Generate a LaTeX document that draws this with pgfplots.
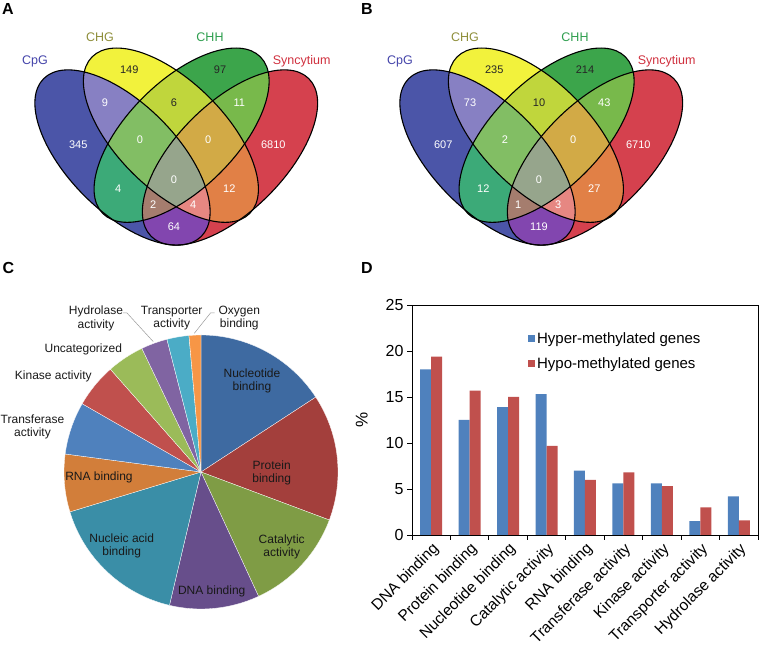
\documentclass[border=0pt]{standalone}
\usepackage{pgfplots}
\pgfplotsset{compat=1.18}
\usepackage{fontspec}
\setmainfont{Liberation Sans}
\setsansfont{Liberation Sans}

% Venn region colours
\definecolor{vB}{HTML}{4B55A8}
\definecolor{vY}{HTML}{F2F23C}
\definecolor{vG}{HTML}{3CA54B}
\definecolor{vR}{HTML}{D5414E}
\definecolor{vBY}{HTML}{8780C3}
\definecolor{vYG}{HTML}{C0D63C}
\definecolor{vGR}{HTML}{78B94B}
\definecolor{vBG}{HTML}{3CAA78}
\definecolor{vYR}{HTML}{E18046}
\definecolor{vBR}{HTML}{8246AF}
\definecolor{vBYG}{HTML}{82BE64}
\definecolor{vYGR}{HTML}{D2AA46}
\definecolor{vBGR}{HTML}{A57D6E}
\definecolor{vBYR}{HTML}{E68782}
\definecolor{vAll}{HTML}{96A58C}
\definecolor{tB}{HTML}{4444AA}
\definecolor{tY}{HTML}{8E8E3A}
\definecolor{tG}{HTML}{2E9E4E}
\definecolor{tR}{HTML}{D0303E}
% pie colours
\definecolor{pNuc}{HTML}{3E6AA1}
\definecolor{pPro}{HTML}{A33F3C}
\definecolor{pCat}{HTML}{7F9C45}
\definecolor{pDNA}{HTML}{674E8B}
\definecolor{pNA}{HTML}{3A8EA7}
\definecolor{pRNA}{HTML}{D27E3A}
\definecolor{pTra}{HTML}{4F81BD}
\definecolor{pKin}{HTML}{C0504D}
\definecolor{pUnc}{HTML}{9BBB59}
\definecolor{pHyd}{HTML}{8064A2}
\definecolor{pTrp}{HTML}{4BACC6}
\definecolor{pOxy}{HTML}{F79646}
% bars
\definecolor{barB}{HTML}{4F81BD}
\definecolor{barR}{HTML}{C0504D}

\tikzset{
 num/.style={font=\fontsize{11}{11}\selectfont, text=white},
 dnum/.style={font=\fontsize{11}{11}\selectfont, text=black!85},
 setlab/.style={font=\fontsize{12.5}{12.5}\selectfont},
 pielab/.style={font=\fontsize{12}{13.5}\selectfont, align=center, text=black!90},
 panel/.style={font=\fontsize{16}{16}\selectfont\bfseries},
}
% ellipse paths (centre, rotation, semi-axes in pt)
\newcommand\pB{[rotate around={-45:(axis cs:122.5,492.5)}] (axis cs:122.5,492.5) ellipse [x radius=111.5pt, y radius=54pt]}
\newcommand\pY{[rotate around={-44.8:(axis cs:170.9,514.8)}] (axis cs:170.9,514.8) ellipse [x radius=111.1pt, y radius=53.9pt]}
\newcommand\pG{[rotate around={44.8:(axis cs:181.6,514.8)}] (axis cs:181.6,514.8) ellipse [x radius=111.1pt, y radius=53.9pt]}
\newcommand\pR{[rotate around={45:(axis cs:230.0,492.5)}] (axis cs:230.0,492.5) ellipse [x radius=111.5pt, y radius=54pt]}

\newcommand\regtwo[3]{\begin{scope}\clip\csname p#1\endcsname;\fill[#3]\csname p#2\endcsname;\end{scope}}
\newcommand\regthree[4]{\begin{scope}\clip\csname p#1\endcsname;\clip\csname p#2\endcsname;\fill[#4]\csname p#3\endcsname;\end{scope}}
\newcommand\vennshapes{%
 \fill[vB]\pB;
 \fill[vY]\pY;
 \fill[vG]\pG;
 \fill[vR]\pR;
 \regtwo{B}{Y}{vBY}
 \regtwo{Y}{G}{vYG}
 \regtwo{G}{R}{vGR}
 \regtwo{B}{G}{vBG}
 \regtwo{Y}{R}{vYR}
 \regtwo{B}{R}{vBR}
 \regthree{B}{Y}{G}{vBYG}
 \regthree{Y}{G}{R}{vYGR}
 \regthree{B}{G}{R}{vBGR}
 \regthree{B}{Y}{R}{vBYR}
 \begin{scope}\clip\pB;\clip\pY;\clip\pG;\fill[vAll]\pR;\end{scope}
 \draw[black,line width=1.1pt]\pB;
 \draw[black,line width=1.1pt]\pY;
 \draw[black,line width=1.1pt]\pG;
 \draw[black,line width=1.1pt]\pR;
 \node[setlab,text=tB] at (axis cs:35,588.3) {CpG};
 \node[setlab,text=tY] at (axis cs:100,612.7) {CHG};
 \node[setlab,text=tG] at (axis cs:210,612.7) {CHH};
 \node[setlab,text=tR] at (axis cs:301.7,588.3) {Syncytium};
}
% #1 Y only, #2 G only, #3 BY, #4 YG, #5 GR, #6 B only, #7 BYG, #8 YGR, #9 R only
\newcommand\vennnumsA[9]{%
 \node[dnum] at (axis cs:129.3,580) {#1};
 \node[dnum] at (axis cs:220,580) {#2};
 \node[num] at (axis cs:105,547.3) {#3};
 \node[dnum] at (axis cs:174,547.3) {#4};
 \node[num] at (axis cs:239.3,547.3) {#5};
 \node[num] at (axis cs:78.3,505) {#6};
 \node[num] at (axis cs:140,510.7) {#7};
 \node[num] at (axis cs:208.3,510.7) {#8};
 \node[num] at (axis cs:273.3,505) {#9};
}
% #1 all, #2 BG, #3 YR, #4 BGR, #5 BYR, #6 BR
\newcommand\vennnumsB[6]{%
 \node[num] at (axis cs:174,470) {#1};
 \node[num] at (axis cs:118.3,461.7) {#2};
 \node[num] at (axis cs:229.3,461.7) {#3};
 \node[num] at (axis cs:153.3,445) {#4};
 \node[num] at (axis cs:193.3,445) {#5};
 \node[num] at (axis cs:174,423.3) {#6};
}

\pgfplotsset{venn/.style={anchor=south west, scale only axis, width=380pt, height=310pt,
  xmin=0, xmax=380, ymin=340, ymax=650, hide axis, clip=false}}

\begin{document}
\begin{tikzpicture}
\useasboundingbox (0,0) rectangle (761pt,650pt);

% Panel A
\begin{axis}[venn, at={(0pt,340pt)}]
\vennshapes
\vennnumsA{149}{97}{9}{6}{11}{345}{0}{0}{6810}
\vennnumsB{0}{4}{12}{2}{4}{64}
\end{axis}

% Panel B
\begin{axis}[venn, at={(365pt,340pt)}]
\vennshapes
\vennnumsA{235}{214}{73}{10}{43}{607}{2}{0}{6710}
\vennnumsB{0}{12}{27}{1}{3}{119}
\end{axis}

% Panel C: pie
\begin{axis}[anchor=south west, at={(0pt,0pt)}, scale only axis, width=380pt, height=340pt,
  xmin=0, xmax=380, ymin=0, ymax=340, hide axis, clip=false]
\xdef\angA{90}
\foreach \v/\c in {15.8/pNuc, 14.9/pPro, 12.4/pCat, 10.6/pDNA, 16.6/pNA, 6.8/pRNA, 6.2/pTra, 5.2/pKin, 4.4/pUnc, 3.1/pHyd, 2.6/pTrp, 1.4/pOxy}{
  \pgfmathsetmacro\angB{\angA-3.6*\v}
  \edef\temp{\noexpand\fill[\c, draw=white, line width=0.3pt] (axis cs:201,178) -- ++(\angA:137pt) arc[start angle=\angA, end angle=\angB, radius=137pt] -- cycle;}
  \temp
  \xdef\angA{\angB}
}
\node[pielab] at (axis cs:252,269) {Nucleotide\\binding};
\node[pielab] at (axis cs:271.7,177.3) {Protein\\binding};
\node[pielab] at (axis cs:281.7,103.3) {Catalytic\\activity};
\node[pielab] at (axis cs:211.7,58.3) {DNA binding};
\node[pielab] at (axis cs:121.7,104) {Nucleic acid\\binding};
\node[pielab] at (axis cs:99,172.7) {RNA binding};
\node[pielab] at (axis cs:32.5,223.3) {Transferase\\activity};
\node[pielab] at (axis cs:53.3,273.3) {Kinase activity};
\node[pielab] at (axis cs:83.3,300.7) {Uncategorized};
\node[pielab] at (axis cs:96,331.7) {Hydrolase\\activity};
\node[pielab] at (axis cs:171.7,331.7) {Transporter\\activity};
\node[pielab] at (axis cs:239.3,331.7) {Oxygen\\binding};
\draw[gray!80, line width=0.5pt] (axis cs:123,337) -- (axis cs:127,337) -- (axis cs:153.3,308.3);
\draw[gray!80, line width=0.5pt] (axis cs:214.5,337) -- (axis cs:210.5,337) -- (axis cs:194.3,316.7);
\end{axis}

% Panel D: bars
\begin{axis}[anchor=south west, at={(412pt,115pt)}, scale only axis, width=346pt, height=230pt,
  ybar=0pt, bar width=11pt,
  xmin=0.5, xmax=9.5, ymin=0, ymax=25,
  ytick={0,5,...,25},
  xtick={1,...,9},
  xticklabels={DNA binding, Protein binding, Nucleotide binding, Catalytic activity, RNA binding, Transferase activity, Kinase activity, Transporter activity, Hydrolase activity},
  x tick label style={rotate=45, anchor=north east, font=\fontsize{15.5}{15.5}\selectfont, inner sep=1pt},
  y tick label style={font=\fontsize{16}{16}\selectfont},
  /pgf/number format/assume math mode=true,
  major x tick style={draw=none},
  minor xtick={0.5,1.5,...,9.5},
  tick align=outside, tick pos=left,
  major tick length=5pt, minor tick length=5pt,
  every tick/.style={black, line width=0.8pt},
  axis line style={black, line width=0.8pt},
  ylabel={\%},
  ylabel style={font=\fontsize{17}{17}\selectfont, at={(axis description cs:-0.145,0.5)}, anchor=center},
  legend style={at={(0.335,0.89)}, anchor=north west, draw=none, fill=none,
    font=\fontsize{15}{17}\selectfont, row sep=8.5pt, inner sep=0pt},
  legend cell align=left,
  legend image code/.code={\draw[#1, draw=none] (0pt,-3.5pt) rectangle (7pt,3.5pt);},
]
\addplot[fill=barB, draw=none] coordinates {(1,18.0) (2,12.5) (3,13.9) (4,15.3) (5,7.0) (6,5.6) (7,5.6) (8,1.5) (9,4.2)};
\addplot[fill=barR, draw=none] coordinates {(1,19.4) (2,15.7) (3,15.0) (4,9.7) (5,6.0) (6,6.8) (7,5.3) (8,3.0) (9,1.6)};
\legend{Hyper-methylated genes, Hypo-methylated genes}
\end{axis}

% panel letters
\node[panel] at (8pt,641pt) {A};
\node[panel] at (367pt,641pt) {B};
\node[panel] at (8.3pt,381.7pt) {C};
\node[panel] at (367pt,381.7pt) {D};
\end{tikzpicture}
\end{document}
